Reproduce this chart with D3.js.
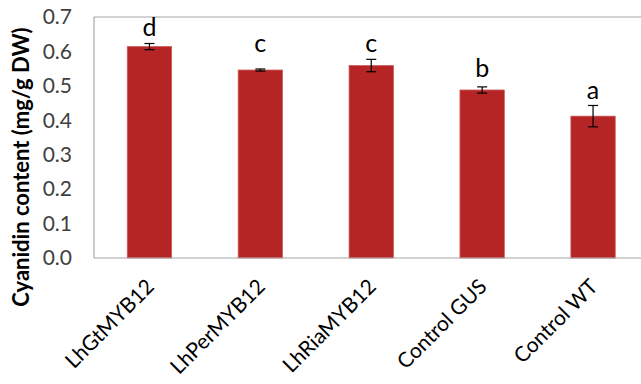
<!DOCTYPE html>
<html>
<head>
<meta charset="utf-8">
<script src="https://cdn.jsdelivr.net/npm/d3@7"></script>
<style>
  html, body { margin: 0; padding: 0; background: #fff; }
  svg { display: block; }
</style>
</head>
<body>
<svg id="chart" width="641" height="384"></svg>
<script>
// Cyanidin content per line, mean and error (mg/g DW)
const categories = ["LhGtMYB12", "LhPerMYB12", "LhRiaMYB12", "Control GUS", "Control WT"];
const means      = [0.614, 0.546, 0.559, 0.488, 0.412];
const errors     = [0.009, 0.003, 0.018, 0.009, 0.031];
// significance groups and the value at which each letter sits
const letters    = ["d", "c", "c", "b", "a"];
const letterAt   = [0.645, 0.599, 0.599, 0.526, 0.461];
const yTicks     = [0, 0.1, 0.2, 0.3, 0.4, 0.5, 0.6, 0.7];

const svg = d3.select("#chart");
const margin = { left: 94, top: 17, bottom: 258, right: 648.5 };
const font = "Lato, 'Open Sans', sans-serif";

const x = d3.scaleBand()
  .domain(categories)
  .range([margin.left, margin.right])
  .paddingInner(0.6)
  .paddingOuter(0.3);

const y = d3.scaleLinear()
  .domain([0, 0.7])
  .range([margin.bottom, margin.top]);

// plot frame (left, top)
const frame = "#a6a6a6";
svg.append("line").attr("x1", margin.left).attr("x2", margin.left)
  .attr("y1", margin.top).attr("y2", margin.bottom)
  .attr("stroke", frame).attr("stroke-width", 1.2);
svg.append("line").attr("x1", margin.left).attr("x2", margin.right)
  .attr("y1", margin.top).attr("y2", margin.top)
  .attr("stroke", frame).attr("stroke-width", 1.2);

// y axis labels
const yAxis = d3.axisLeft(y).tickValues(yTicks).tickFormat(d3.format(".1f"))
  .tickSize(0).tickPadding(22);
const gy = svg.append("g").attr("transform", `translate(${margin.left},0)`).call(yAxis);
gy.select(".domain").remove();
gy.selectAll("text")
  .attr("font-family", font).attr("font-size", 21).attr("fill", "#404040");

// bars
svg.append("g").selectAll("rect")
  .data(categories)
  .join("rect")
  .attr("x", d => x(d))
  .attr("width", x.bandwidth())
  .attr("y", (d, i) => y(means[i]))
  .attr("height", (d, i) => y(0) - y(means[i]))
  .attr("fill", "#b52525")
  .attr("stroke", "#cf5a5a")
  .attr("stroke-width", 0.8);

// x axis line
const xAxis = d3.axisBottom(x).tickSize(0).tickFormat("");
const gx = svg.append("g").attr("transform", `translate(0,${margin.bottom})`).call(xAxis);
gx.select(".domain").attr("stroke", frame).attr("stroke-width", 1.2)
  .attr("d", `M${margin.left},0H${margin.right}`);

// rotated category labels: each one hangs off its band centre at 45 degrees
const c45 = Math.SQRT1_2;
svg.append("g").selectAll("text")
  .data(categories)
  .join("text")
  .attr("transform", d => `matrix(${c45},${-c45},${c45},${c45},${x(d) + x.bandwidth() / 2 + 6},${margin.bottom + 30})`)
  .attr("text-anchor", "end")
  .attr("font-family", font).attr("font-size", 21).attr("fill", "#000")
  .text(d => d);

// error bars
const eb = svg.append("g").attr("stroke", "#000").attr("stroke-width", 1.2);
categories.forEach((c, i) => {
  const cx = x(c) + x.bandwidth() / 2;
  const y1 = y(means[i] + errors[i]), y2 = y(means[i] - errors[i]);
  eb.append("line").attr("x1", cx).attr("x2", cx).attr("y1", y1).attr("y2", y2);
  eb.append("line").attr("x1", cx - 5).attr("x2", cx + 5).attr("y1", y1).attr("y2", y1);
  eb.append("line").attr("x1", cx - 5).attr("x2", cx + 5).attr("y1", y2).attr("y2", y2);
});

// significance letters
svg.append("g").selectAll("text")
  .data(categories)
  .join("text")
  .attr("x", d => x(d) + x.bandwidth() / 2)
  .attr("y", (d, i) => y(letterAt[i]))
  .attr("text-anchor", "middle")
  .attr("font-family", font).attr("font-size", 25).attr("fill", "#000")
  .text((d, i) => letters[i]);

// y axis title
svg.append("text")
  .attr("transform", "translate(29,167) rotate(-90)")
  .attr("text-anchor", "middle")
  .attr("font-family", font).attr("font-size", 22).attr("font-weight", "bold")
  .attr("fill", "#000")
  .text("Cyanidin content (mg/g DW)");
</script>
</body>
</html>
